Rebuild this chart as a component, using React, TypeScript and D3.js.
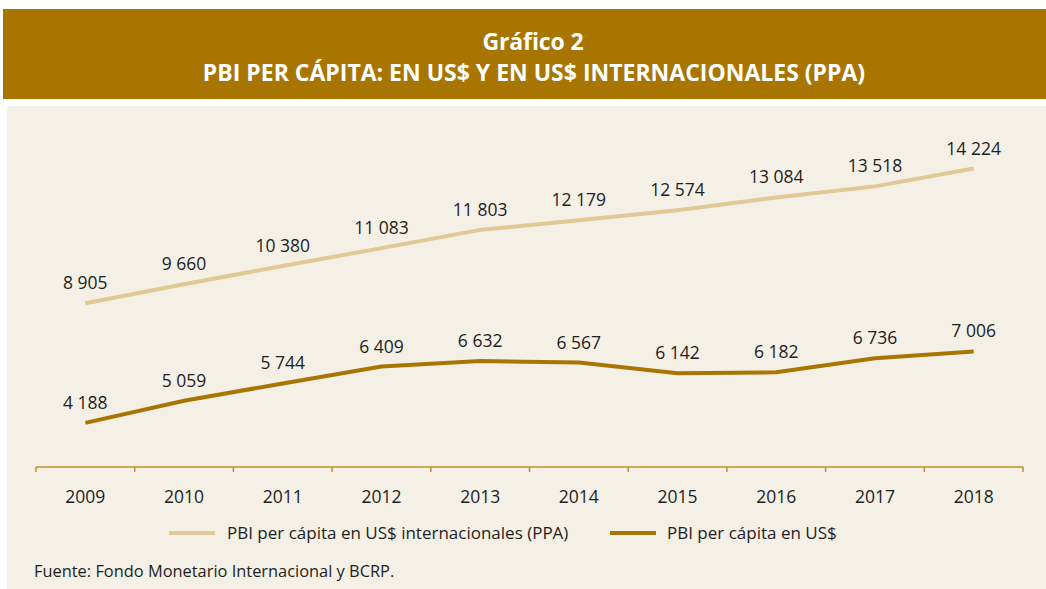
import React from "react";
import * as d3 from "d3";

const years = ["2009", "2010", "2011", "2012", "2013", "2014", "2015", "2016", "2017", "2018"];
const ppaValues = [8905, 9660, 10380, 11083, 11803, 12179, 12574, 13084, 13518, 14224];
const usdValues = [4188, 5059, 5744, 6409, 6632, 6567, 6142, 6182, 6736, 7006];
const seriesNames = ["PBI per cápita en US$ internacionales (PPA)", "PBI per cápita en US$"];
const titleLines = ["Gráfico 2", "PBI PER CÁPITA: EN US$ Y EN US$ INTERNACIONALES (PPA)"];
const sourceText = "Fuente: Fondo Monetario Internacional y BCRP.";

const W = 1046, H = 589;
const GOLD = "#A87500";
const LIGHT = "#E0C994";
const BG = "#F4F0E6";
const FONT = "'Open Sans', 'Noto Sans', sans-serif";

const fmt = (v: number) => d3.format(",")(v).replace(/,/g, " ");

export default function App() {
  const x = d3.scaleBand<string>().domain(years).range([36, 1023]).padding(0);
  const y = d3.scaleLinear().domain([0, 14224]).range([529, 168.5]);
  const cx = (d: string) => (x(d) as number) + x.bandwidth() / 2;
  const line = d3.line<number>().x((_, i) => cx(years[i])).y((v) => y(v));
  const axisY = 467;
  const ticks = [...years.map((d) => x(d) as number), 1023];

  return (
    <svg width={W} height={H} style={{ position: "absolute", left: 0, top: 0 }} fontFamily={FONT}>
      <rect x={0} y={0} width={W} height={H} fill="#ffffff" />
      <rect x={3} y={9} width={W - 3} height={90} fill={GOLD} />
      <text x={533} y={50} textAnchor="middle" fill="#fff" fontSize={23} fontWeight={700} letterSpacing={-0.1}>{titleLines[0]}</text>
      <text x={534} y={81} textAnchor="middle" fill="#fff" fontSize={23} fontWeight={700} letterSpacing={0}>{titleLines[1]}</text>
      <rect x={7} y={106} width={W - 7} height={H - 106} fill={BG} />

      <line x1={36} x2={1023} y1={axisY} y2={axisY} stroke="#C4902A" strokeWidth={1.5} />
      {ticks.map((t, i) => (
        <line key={i} x1={t} x2={t} y1={axisY} y2={axisY + 5} stroke="#C4902A" strokeWidth={1.5} />
      ))}
      {years.map((d) => (
        <text key={d} x={cx(d)} y={503} textAnchor="middle" fontSize={17.5} fill="#1e1e1e">{d}</text>
      ))}

      <path d={line(ppaValues) || ""} fill="none" stroke={LIGHT} strokeWidth={4} />
      <path d={line(usdValues) || ""} fill="none" stroke={GOLD} strokeWidth={4} />

      {ppaValues.map((v, i) => (
        <text key={"p" + i} x={cx(years[i])} y={y(v) - 14} textAnchor="middle" fontSize={17.5} fill="#1e1e1e">{fmt(v)}</text>
      ))}
      {usdValues.map((v, i) => (
        <text key={"u" + i} x={cx(years[i])} y={y(v) - 14} textAnchor="middle" fontSize={17.5} fill="#1e1e1e">{fmt(v)}</text>
      ))}

      <line x1={169} x2={215} y1={533} y2={533} stroke={LIGHT} strokeWidth={4} />
      <text x={227} y={539} fontSize={17} fill="#1e1e1e">{seriesNames[0]}</text>
      <line x1={610} x2={656} y1={533} y2={533} stroke={GOLD} strokeWidth={4} />
      <text x={667} y={539} fontSize={17} fill="#1e1e1e">{seriesNames[1]}</text>

      <text x={34} y={577} fontSize={16.4} fill="#1e1e1e">{sourceText}</text>
    </svg>
  );
}
